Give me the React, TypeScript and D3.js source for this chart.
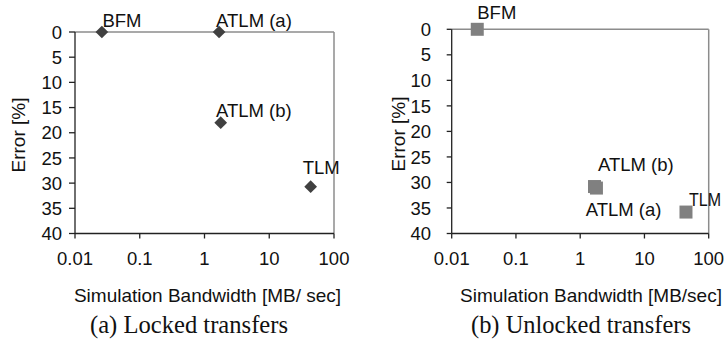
import React from "react";
import * as d3 from "d3";

// ---- data ----
const pointNames = ["BFM", "ATLM (a)", "ATLM (b)", "TLM"];
const lockedBandwidth = [0.026, 1.68, 1.78, 43.6];
const lockedError = [0, 0, 18, 30.7];
const unlockedBandwidth = [0.025, 1.67, 1.79, 44.3];
const unlockedError = [0, 30.8, 31.1, 35.8];
const xTicks = [0.01, 0.1, 1, 10, 100];
const xTickLabels = ["0.01", "0.1", "1", "10", "100"];
const yTicks = [0, 5, 10, 15, 20, 25, 30, 35, 40];
const yTitle = "Error [%]";
const xTitleLocked = "Simulation Bandwidth [MB/ sec]";
const xTitleUnlocked = "Simulation Bandwidth [MB/sec]";
const captionLocked = "(a) Locked transfers";
const captionUnlocked = "(b) Unlocked transfers";

const SANS = "'Liberation Sans', Arial, sans-serif";
const SERIF = "'Liberation Serif', 'Times New Roman', serif";

type PanelProps = {
  x0: number; x1: number; y0: number; y1: number;
  bw: number[]; err: number[];
  marker: "diamond" | "square";
  color: string;
  labelOffsets: [number, number][];
  labelWidths: (number | undefined)[];
  yLabelX: number; yTickLen: number;
  yTitleX: number; yTitleY: number;
  xTitle: string; xTitleX: number;
  caption: string; captionX: number; captionW: number;
};

function Panel(p: PanelProps) {
  const x = d3.scaleLog().domain([0.01, 100]).range([p.x0, p.x1]);
  const y = d3.scaleLinear().domain([0, 40]).range([p.y0, p.y1]);
  const sq = d3.symbol().type(d3.symbolSquare).size(p.marker === "square" ? 169 : 81)() as string;
  return (
    <g>
      <line x1={p.x0} x2={p.x1} y1={p.y0} y2={p.y0} stroke="#8c8c8c" strokeWidth={1.5} />
      <line x1={p.x1} x2={p.x1} y1={p.y0} y2={p.y1} stroke="#8c8c8c" strokeWidth={1.5} />
      <line x1={p.x0} x2={p.x0} y1={p.y0} y2={p.y1} stroke="#222" strokeWidth={1.3} />
      <line x1={p.x0} x2={p.x1} y1={p.y1} y2={p.y1} stroke="#222" strokeWidth={1.3} />
      {yTicks.map((t) => (
        <g key={"y" + t}>
          <line x1={p.x0 - p.yTickLen} x2={p.x0} y1={y(t)} y2={y(t)} stroke="#222" strokeWidth={1.3} />
          <text x={p.yLabelX} y={y(t)} dy="0.36em" textAnchor="end" fontFamily={SANS} fontSize={18.5} fill="#111">{t}</text>
        </g>
      ))}
      {xTicks.map((t, i) => (
        <g key={"x" + t}>
          <line x1={x(t)} x2={x(t)} y1={p.y1} y2={p.y1 + 5} stroke="#222" strokeWidth={1.3} />
          <text x={x(t)} y={264.5} textAnchor="middle" fontFamily={SANS} fontSize={18.5} fill="#111">{xTickLabels[i]}</text>
        </g>
      ))}
      <text transform={`translate(${p.yTitleX},${p.yTitleY}) rotate(-90)`} textAnchor="middle" fontFamily={SANS} fontSize={19} fill="#111">{yTitle}</text>
      <text x={p.xTitleX} y={302} textAnchor="middle" fontFamily={SANS} fontSize={19} fill="#111">{p.xTitle}</text>
      <text x={p.captionX} y={333} fontFamily={SERIF} fontSize={26} fill="#111" textLength={p.captionW} lengthAdjust="spacingAndGlyphs">{p.caption}</text>
      {p.bw.map((b, i) => (
        <path key={"m" + i} d={sq} fill={p.color}
          transform={`translate(${x(b)},${y(p.err[i])})` + (p.marker === "diamond" ? " rotate(45)" : "")} />
      ))}
      {p.bw.map((b, i) => (
        <text key={"l" + i} x={x(b) + p.labelOffsets[i][0]} y={y(p.err[i]) + p.labelOffsets[i][1]}
          fontFamily={SANS} fontSize={18.5} fill="#111"
          textLength={p.labelWidths[i]} lengthAdjust="spacingAndGlyphs">{pointNames[i]}</text>
      ))}
    </g>
  );
}

export default function App() {
  return (
    <svg width={726} height={341} style={{ display: "block", position: "absolute", left: 0, top: 0, background: "#fff" }}>
      <rect width={726} height={341} fill="#fff" />
      <Panel x0={75} x1={334} y0={32} y1={233.5} bw={lockedBandwidth} err={lockedError}
        marker="diamond" color="#404040"
        labelOffsets={[[0.6, -4.7], [-3, -5], [-4.7, -5.7], [-8, -12.7]]}
        labelWidths={[undefined, undefined, undefined, undefined]}
        yLabelX={62} yTickLen={6} yTitleX={25} yTitleY={135}
        xTitle={xTitleLocked} xTitleX={207.5}
        caption={captionLocked} captionX={90} captionW={198} />
      <Panel x0={451.7} x1={708.7} y0={29.3} y1={233.5} bw={unlockedBandwidth} err={unlockedError}
        marker="square" color="#808080"
        labelOffsets={[[0, -10.3], [-8.8, 29.5], [1.5, -17], [3, -6]]}
        labelWidths={[undefined, undefined, undefined, 32]}
        yLabelX={431} yTickLen={5} yTitleX={404.5} yTitleY={134}
        xTitle={xTitleUnlocked} xTitleX={591}
        caption={captionUnlocked} captionX={471} captionW={220} />
    </svg>
  );
}
